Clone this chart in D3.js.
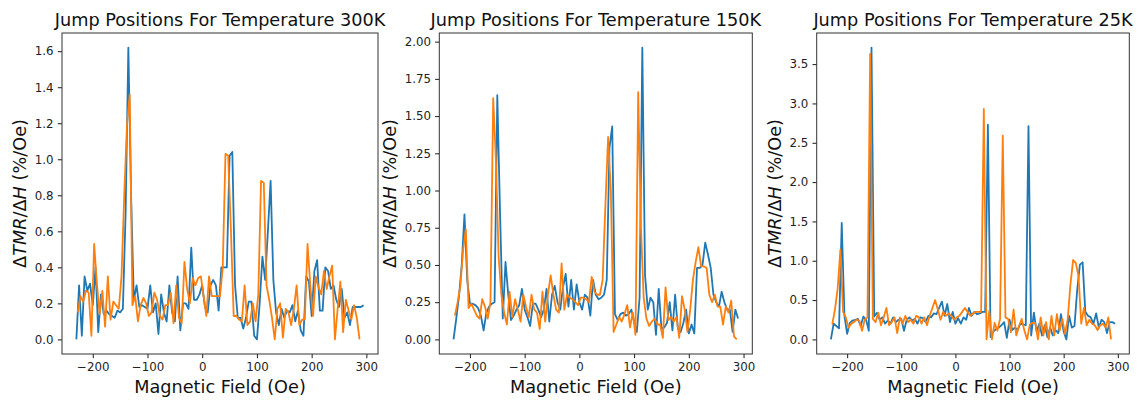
<!DOCTYPE html>
<html>
<head>
<meta charset="utf-8">
<script src="https://cdn.jsdelivr.net/npm/d3@7"></script>
<style>
  body { margin: 0; background: #fff; }
  svg text { font-family: "DejaVu Sans", sans-serif; }
</style>
</head>
<body>
<div class="content"></div>
<script>
// field sweep grid (Oe)
var blueStart = -230, orangeStart = -227.5, fieldStep = 5;

var titles = [
  'Jump Positions For Temperature 300K',
  'Jump Positions For Temperature 150K',
  'Jump Positions For Temperature 25K'
];

// dTMR/dH (%/Oe), blue sweep
var blue300 = [
  0.00, 0.30, 0.02, 0.35, 0.27, 0.31, 0.19, 0.40, 0.04, 0.25,
  0.14, 0.16, 0.14, 0.13, 0.12, 0.16, 0.15, 0.17, 0.70, 1.62,
  0.80, 0.22, 0.30, 0.18, 0.19, 0.18, 0.17, 0.30, 0.15, 0.20,
  0.03, 0.25, 0.15, 0.10, 0.30, 0.15, 0.10, 0.35, 0.05, 0.20,
  0.20, 0.17, 0.51, 0.22, 0.22, 0.25, 0.30, 0.18, 0.15, 0.30,
  0.33, 0.30, 0.16, 0.40, 0.40, 0.40, 1.02, 1.04, 0.30, 0.12,
  0.12, 0.06, 0.12, 0.21, 0.21, 0.02, 0.00, 0.20, 0.46, 0.33,
  0.60, 0.88, 0.33, 0.15, 0.08, 0.17, 0.12, 0.16, 0.15, 0.19,
  0.10, 0.16, 0.05, 0.02, 0.35, 0.32, 0.13, 0.38, 0.44, 0.16,
  0.16, 0.40, 0.38, 0.28, 0.30, 0.22, 0.18, 0.28, 0.12, 0.15,
  0.08, 0.18, 0.18, 0.18, 0.18, 0.19
];
var blue150 = [
  0.00, 0.14, 0.29, 0.50, 0.84, 0.40, 0.24, 0.24, 0.23, 0.21,
  0.16, 0.06, 0.18, 0.22, 0.24, 0.25, 1.64, 0.85, 0.14, 0.52,
  0.30, 0.13, 0.16, 0.20, 0.23, 0.34, 0.20, 0.15, 0.09, 0.24,
  0.24, 0.20, 0.15, 0.20, 0.34, 0.12, 0.30, 0.36, 0.25, 0.20,
  0.35, 0.44, 0.22, 0.40, 0.20, 0.37, 0.25, 0.20, 0.30, 0.28,
  0.16, 0.40, 0.30, 0.27, 0.28, 0.30, 0.40, 1.29, 1.43, 0.17,
  0.13, 0.17, 0.18, 0.16, 0.17, 0.20, 0.12, 0.05, 0.28, 1.96,
  0.43, 0.20, 0.28, 0.25, 0.03, 0.34, 0.07, 0.08, 0.11, 0.25,
  0.06, 0.30, 0.07, 0.05, 0.11, 0.20, 0.04, 0.10, 0.04, 0.48,
  0.48, 0.50, 0.65, 0.57, 0.48, 0.30, 0.25, 0.22, 0.32, 0.25,
  0.20, 0.20, 0.05, 0.20, 0.14
];
var blue25 = [
  0.00, 0.20, 0.17, 0.14, 1.48, 0.30, 0.07, 0.21, 0.24, 0.25,
  0.26, 0.17, 0.29, 0.25, 0.11, 3.71, 0.29, 0.34, 0.25, 0.28,
  0.20, 0.24, 0.20, 0.28, 0.22, 0.25, 0.26, 0.11, 0.25, 0.28,
  0.24, 0.26, 0.20, 0.28, 0.27, 0.22, 0.30, 0.28, 0.33, 0.32,
  0.40, 0.48, 0.30, 0.45, 0.22, 0.35, 0.20, 0.27, 0.20, 0.28,
  0.25, 0.40, 0.30, 0.35, 0.32, 0.33, 0.35, 0.35, 2.73, 0.03,
  0.10, 0.13, 0.15, 0.18, 0.22, 0.02, 0.25, 0.12, 0.15, 0.12,
  0.20, 0.19, 0.18, 2.71, 0.05, 0.34, 0.10, 0.20, 0.05, 0.18,
  0.03, 0.15, 0.05, 0.12, 0.08, 0.32, 0.10, 0.00, 0.30, 0.15,
  0.17, 0.63, 0.95, 0.98, 0.35, 0.30, 0.28, 0.20, 0.33, 0.15,
  0.25, 0.22, 0.08, 0.22, 0.22, 0.20
];

// dTMR/dH (%/Oe), orange sweep
var orange300 = [
  0.15, 0.24, 0.21, 0.27, 0.26, 0.02, 0.53, 0.31, 0.14, 0.27,
  0.07, 0.35, 0.11, 0.21, 0.19, 0.17, 0.35, 0.80, 1.19, 1.36,
  0.19, 0.24, 0.10, 0.19, 0.23, 0.20, 0.13, 0.15, 0.26, 0.22,
  0.13, 0.11, 0.19, 0.19, 0.26, 0.09, 0.30, 0.12, 0.09, 0.43,
  0.28, 0.20, 0.34, 0.30, 0.34, 0.35, 0.24, 0.13, 0.35, 0.24,
  0.24, 0.24, 0.24, 0.40, 1.03, 1.02, 0.60, 0.13, 0.13, 0.11,
  0.10, 0.30, 0.08, 0.10, 0.20, 0.10, 0.25, 0.88, 0.87, 0.30,
  0.22, 0.12, 0.00, 0.17, 0.20, 0.01, 0.17, 0.15, 0.08, 0.17,
  0.30, 0.08, 0.11, 0.11, 0.53, 0.30, 0.13, 0.35, 0.29, 0.25,
  0.38, 0.28, 0.35, 0.41, 0.00, 0.17, 0.32, 0.04, 0.22, 0.16,
  0.11, 0.19, 0.12, 0.00
];
var orange150 = [
  0.16, 0.25, 0.36, 0.60, 0.74, 0.21, 0.24, 0.20, 0.16, 0.14,
  0.27, 0.22, 0.14, 0.25, 1.62, 1.20, 0.55, 0.30, 0.18, 0.10,
  0.32, 0.15, 0.27, 0.20, 0.12, 0.30, 0.22, 0.15, 0.30, 0.20,
  0.18, 0.07, 0.32, 0.12, 0.30, 0.43, 0.30, 0.20, 0.18, 0.51,
  0.20, 0.30, 0.28, 0.27, 0.25, 0.23, 0.28, 0.28, 0.27, 0.25,
  0.42, 0.32, 0.30, 0.30, 0.40, 0.90, 1.36, 1.00, 0.05, 0.10,
  0.15, 0.12, 0.17, 0.23, 0.08, 0.18, 0.03, 1.66, 0.75, 0.28,
  0.14, 0.09, 0.12, 0.14, 0.10, 0.10, 0.01, 0.35, 0.13, 0.15,
  0.12, 0.15, 0.01, 0.29, 0.20, 0.05, 0.20, 0.40, 0.52, 0.62,
  0.49, 0.49, 0.48, 0.30, 0.25, 0.30, 0.22, 0.22, 0.10, 0.22,
  0.18, 0.26, 0.02, 0.00
];
var orange25 = [
  0.19, 0.38, 0.65, 1.14, 0.35, 0.28, 0.15, 0.20, 0.22, 0.25,
  0.24, 0.11, 0.25, 0.28, 3.63, 0.26, 0.22, 0.34, 0.18, 0.28,
  0.40, 0.18, 0.22, 0.28, 0.08, 0.28, 0.20, 0.30, 0.22, 0.25,
  0.20, 0.30, 0.28, 0.20, 0.28, 0.18, 0.30, 0.40, 0.50, 0.38,
  0.25, 0.35, 0.30, 0.33, 0.30, 0.25, 0.28, 0.30, 0.35, 0.40,
  0.35, 0.30, 0.33, 0.35, 0.35, 0.35, 2.93, 0.00, 0.36, 0.00,
  0.21, 0.11, 0.26, 2.59, 0.28, 0.26, 0.09, 0.38, 0.05, 0.17,
  0.26, 0.11, 0.00, 0.19, 0.21, 0.21, 0.00, 0.28, 0.05, 0.22,
  0.00, 0.30, 0.05, 0.32, 0.11, 0.26, 0.07, 0.26, 0.70, 1.01,
  0.97, 0.80, 0.20, 0.40, 0.18, 0.25, 0.20, 0.18, 0.12, 0.18,
  0.20, 0.15, 0.28, 0.00
];

var xTickValues = [-200, -100, 0, 100, 200, 300];
var yTicks300 = [0, 0.2, 0.4, 0.6, 0.8, 1.0, 1.2, 1.4, 1.6];
var yTicks150 = [0, 0.25, 0.5, 0.75, 1.0, 1.25, 1.5, 1.75, 2.0];
var yTicks25 = [0, 0.5, 1.0, 1.5, 2.0, 2.5, 3.0, 3.5];

var panels = [
  {title: titles[0], blue: blue300, orange: orange300, yTicks: yTicks300, fmt: '.1f', left: 62, right: 378},
  {title: titles[1], blue: blue150, orange: orange150, yTicks: yTicks150, fmt: '.2f', left: 439.3, right: 752.3},
  {title: titles[2], blue: blue25, orange: orange25, yTicks: yTicks25, fmt: '.1f', left: 816.7, right: 1129.3}
];

var plotTop = 33, plotBottom = 354;
var tickLen = 4.2, tickPad = 4.2;

var svg = d3.select('.content')
  .append('svg')
  .attr('width', 1139)
  .attr('height', 401);

panels.forEach(function (p) {
  var bluePts = p.blue.map(function (v, i) { return {x: blueStart + i * fieldStep, y: v}; });
  var orangePts = p.orange.map(function (v, i) { return {x: orangeStart + i * fieldStep, y: v}; });
  var all = bluePts.concat(orangePts);

  // matplotlib-like 5% margins
  var xExt = d3.extent(all, function (d) { return d.x; });
  var xPad = (xExt[1] - xExt[0]) * 0.05;
  var yExt = d3.extent(all, function (d) { return d.y; });
  var yPad = (yExt[1] - yExt[0]) * 0.05;

  var x = d3.scaleLinear().domain([xExt[0] - xPad, xExt[1] + xPad]).range([p.left, p.right]);
  var y = d3.scaleLinear().domain([yExt[0] - yPad, yExt[1] + yPad]).range([plotBottom, plotTop]);

  var g = svg.append('g');

  var line = d3.line()
    .x(function (d) { return x(d.x); })
    .y(function (d) { return y(d.y); });

  g.append('path')
    .datum(bluePts)
    .attr('d', line)
    .attr('fill', 'none')
    .attr('stroke', '#1f77b4')
    .attr('stroke-width', 1.8)
    .attr('stroke-linejoin', 'round');

  g.append('path')
    .datum(orangePts)
    .attr('d', line)
    .attr('fill', 'none')
    .attr('stroke', '#ff7f0e')
    .attr('stroke-width', 1.8)
    .attr('stroke-linejoin', 'round');

  var axisX = g.append('g')
    .attr('transform', 'translate(0,' + plotBottom + ')')
    .call(d3.axisBottom(x).tickValues(xTickValues).tickSize(tickLen).tickPadding(tickPad).tickFormat(d3.format('d')));
  axisX.select('.domain').remove();
  axisX.selectAll('line').attr('stroke', '#000').attr('stroke-width', 0.9);
  axisX.selectAll('text').attr('fill', '#222').style('font-size', '11.8px').attr('dy', '0.75em');

  var axisY = g.append('g')
    .attr('transform', 'translate(' + p.left + ',0)')
    .call(d3.axisLeft(y).tickValues(p.yTicks).tickSize(tickLen).tickPadding(tickPad).tickFormat(d3.format(p.fmt)));
  axisY.select('.domain').remove();
  axisY.selectAll('line').attr('stroke', '#000').attr('stroke-width', 0.9);
  axisY.selectAll('text').attr('fill', '#222').style('font-size', '11.8px');

  // frame
  g.append('rect')
    .attr('x', p.left)
    .attr('y', plotTop)
    .attr('width', p.right - p.left)
    .attr('height', plotBottom - plotTop)
    .attr('fill', 'none')
    .attr('stroke', '#333')
    .attr('stroke-width', 1);

  var cx = (p.left + p.right) / 2;

  g.append('text')
    .attr('x', cx)
    .attr('y', 26)
    .attr('text-anchor', 'middle')
    .style('font-size', '17.7px')
    .attr('fill', '#111')
    .text(p.title);

  g.append('text')
    .attr('x', cx)
    .attr('y', 393)
    .attr('text-anchor', 'middle')
    .style('font-size', '17.7px')
    .attr('fill', '#111')
    .text('Magnetic Field (Oe)');

  // bbox is in the axis group's own coordinates
  var bb = axisY.node().getBBox();
  var ly = (plotTop + plotBottom) / 2;
  var lx = p.left + bb.x - 4.8 - 4.2;
  var yl = g.append('text')
    .attr('transform', 'translate(' + lx + ',' + ly + ') rotate(-90)')
    .attr('text-anchor', 'middle')
    .style('font-size', '17.7px')
    .attr('fill', '#111');
  yl.append('tspan').text('\u0394');
  yl.append('tspan').style('font-style', 'italic').text('TMR');
  yl.append('tspan').text('/\u0394');
  yl.append('tspan').style('font-style', 'italic').text('H');
  yl.append('tspan').text(' (%/Oe)');
});
</script>
</body>
</html>
